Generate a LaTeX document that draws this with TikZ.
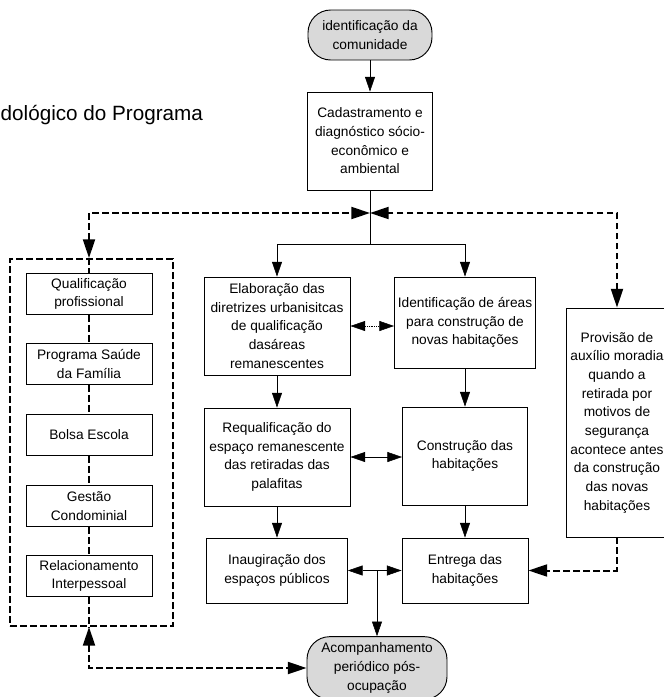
\documentclass[tikz,border=0pt]{standalone}
\usepackage{fontspec}
\setmainfont{Liberation Sans}
\usetikzlibrary{arrows.meta}
\tikzset{
  caixa/.style={draw, line width=0.7pt, fill=white, align=center, inner sep=1.5pt},
  terminal/.style={draw, line width=0.7pt, fill=black!15, rounded corners=17pt, align=center, inner sep=1pt},
  tracejado/.style={line width=1.5pt, dash pattern=on 5pt off 2.5pt},
  seta/.style={-{Triangle[length=11pt,width=7.5pt]}},
  setas/.style={{Triangle[length=11pt,width=7.5pt]}-{Triangle[length=11pt,width=7.5pt]}},
  setag/.style={-{Triangle[length=14pt,width=9pt]}},
  setasg/.style={{Triangle[length=14pt,width=9pt]}-{Triangle[length=14pt,width=9pt]}},
}
\begin{document}
\begin{tikzpicture}[x=0.75pt, y=-0.75pt, font=\fontsize{10.3}{14}\selectfont]
  \useasboundingbox (0,0) rectangle (664,697);
  % título
  \node[anchor=west, font=\fontsize{15.5}{18}\selectfont] (titulo) at (-4,115) {dológico do Programa};
  % início e cadastro
  \node[terminal, minimum width=93pt, minimum height=37.5pt] (ini) at (370,35) {identificação da\\comunidade};
  \node[caixa, minimum width=93.75pt, minimum height=73.5pt] (cad) at (370,141) {Cadastramento e\\diagnóstico sócio-\\econômico e\\ambiental};
  % coluna central
  \node[caixa, minimum width=109.5pt, minimum height=73.5pt] (elab) at (277,326) {Elaboração das\\diretrizes urbanisitcas\\de qualificação\\dasáreas\\remanescentes};
  \node[caixa, minimum width=105.75pt, minimum height=68.25pt] (ident) at (465,322.5) {Identificação de áreas\\para construção de\\novas habitações};
  \node[caixa, minimum width=109.5pt, minimum height=73.5pt] (requal) at (277,457) {Requalificação do\\espaço remanescente\\das retiradas das\\palafitas};
  \node[caixa, minimum width=93.75pt, minimum height=73.5pt] (constr) at (465,456) {Construção das\\habitações};
  \node[caixa, minimum width=105.75pt, minimum height=48.75pt] (inaug) at (277,570.5) {Inaugiração dos\\espaços públicos};
  \node[caixa, minimum width=94.5pt, minimum height=48.75pt] (entrega) at (465,570.5) {Entrega das\\habitações};
  % auxílio moradia (cortado à direita)
  \node[caixa, minimum width=76pt, minimum height=171.75pt, inner xsep=0pt] (prov) at (617,422.5) {Provisão de\\auxílio moradia\\quando a\\retirada por\\motivos de\\segurança\\acontece antes\\da construção\\das novas\\habitações};
  % fim
  \node[terminal, minimum width=105pt, minimum height=47pt] (acomp) at (377,668) {Acompanhamento\\periódico pós-\\ocupação};
  % programas sociais
  \node[draw, tracejado, minimum width=122.25pt, minimum height=275.25pt] (grupo) at (91.5,442.5) {};
  \foreach \nome/\texto/\y in {qual/{Qualificação\\profissional}/294,
      saude/{Programa Saúde\\da Família}/364,
      bolsa/{Bolsa Escola}/435,
      gestao/{Gestão\\Condominial}/506,
      relac/{Relacionamento\\Interpessoal}/576}
    \node[caixa, minimum width=94.5pt, minimum height=30.75pt] (\nome) at (89,\y) {\texto};
  \draw[tracejado] (grupo.north -| qual) -- (qual);
  \draw[tracejado] (qual) -- (saude);
  \draw[tracejado] (saude) -- (bolsa);
  \draw[tracejado] (bolsa) -- (gestao);
  \draw[tracejado] (gestao) -- (relac);
  \draw[tracejado] (relac) -- (grupo.south -| relac);
  % ligações
  \coordinate (meio) at (370,213);
  \coordinate (ramo) at (370,244);
  \coordinate (juncao) at (377,570.5);
  \draw[seta] (ini) -- (cad);
  \draw (cad) -- (ramo);
  \draw[seta] (ramo) -| (elab);
  \draw[seta] (ramo) -| (ident);
  \draw[tracejado, setasg] (grupo.north -| qual) |- (meio);
  \draw[tracejado, setasg] (prov) |- (meio);
  \draw[setas, densely dotted] (elab) -- (elab -| ident.west);
  \draw[seta] (elab) -- (requal);
  \draw[seta] (ident) -- (constr);
  \draw[setas] (requal) -- (requal -| constr.west);
  \draw[seta] (requal) -- (inaug);
  \draw[seta] (constr) -- (entrega);
  \draw[setas] (inaug) -- (entrega);
  \draw[seta] (juncao) -- (acomp);
  \draw[tracejado, setag] (prov) |- (entrega);
  \draw[tracejado, setasg] (grupo.south -| relac) |- (acomp);
\end{tikzpicture}
\end{document}
